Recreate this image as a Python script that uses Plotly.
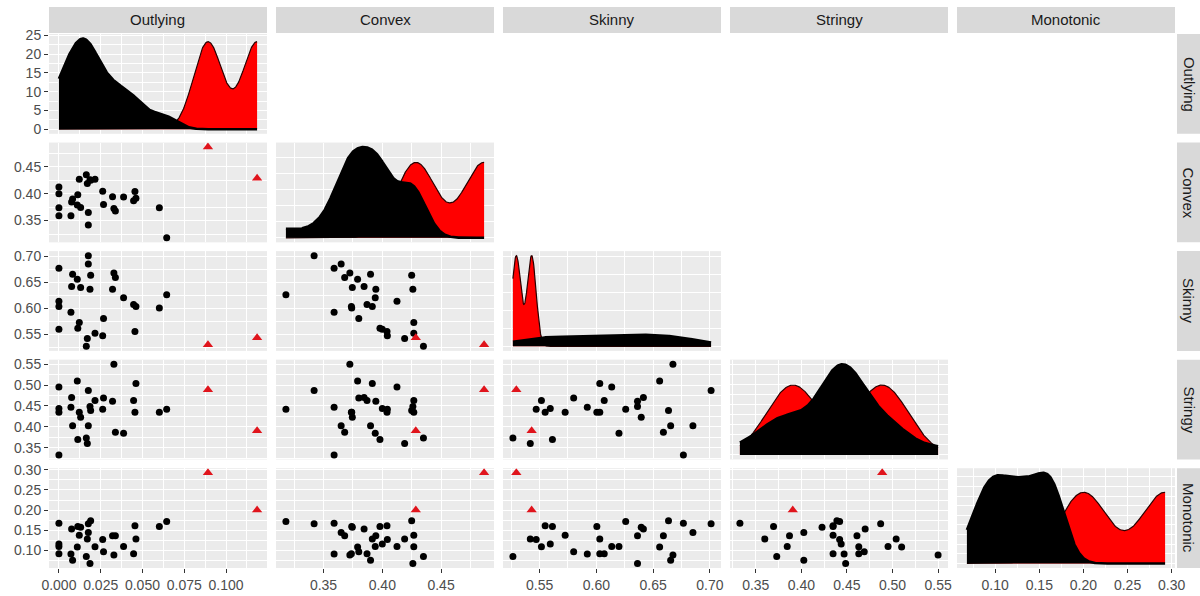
import numpy as np
import plotly.graph_objects as go

VARS = ["Outlying", "Convex", "Skinny", "Stringy", "Monotonic"]

# ---- black group (29 observations) ----
outlying = [0.0176, 0.0176, 0.0, 0.0082, 0.011, 0.019, 0.0076, 0.013, 0.0186, 0.0329,
            0.0338, 0.0321, 0.0387, 0.0447, 0.0461, 0.0601, 0.0645, 0.0, 0.0, 0.0072,
            0.0122, 0.0113, 0.0, 0.0267, 0.0216, 0.0262, 0.017, 0.0164, 0.0455]
convex = [0.342, 0.365, 0.359, 0.390, 0.379, 0.425, 0.3845, 0.3745, 0.426, 0.3724,
          0.368, 0.3945, 0.394, 0.387, 0.3915, 0.374, 0.318, 0.4125, 0.3737, 0.359,
          0.4268, 0.398, 0.400, 0.380, 0.4268, 0.4043, 0.419, 0.435, 0.404]
skinny = [0.701, 0.685, 0.6766, 0.6654, 0.6557, 0.6635, 0.6414, 0.6395, 0.6362, 0.6674,
          0.659, 0.6362, 0.6199, 0.6069, 0.603, 0.6004, 0.6258, 0.6135, 0.603, 0.592,
          0.5725, 0.5613, 0.5594, 0.580, 0.5516, 0.547, 0.5418, 0.5265, 0.5549]
stringy = [0.487, 0.4027, 0.3326, 0.4027, 0.510, 0.439, 0.470, 0.4227, 0.4486, 0.550,
           0.387, 0.461, 0.3845, 0.463, 0.504, 0.4348, 0.442, 0.4951, 0.4348, 0.4469,
           0.4348, 0.3695, 0.4437, 0.469, 0.463, 0.442, 0.3599, 0.373, 0.4348]
monotonic = [0.166, 0.1448, 0.1673, 0.076, 0.109, 0.174, 0.153, 0.1575, 0.068, 0.089,
             0.1365, 0.1365, 0.110, 0.092, 0.1285, 0.1592, 0.172, 0.110, 0.092, 0.0915,
             0.138, 0.1592, 0.116, 0.097, 0.1092, 0.127, 0.1285, 0.0855, 0.1613]

# ---- red group (2 observations) ----
outlying_red = [0.0892, 0.1186]
convex_red = [0.4866, 0.4285]
skinny_red = [0.5295, 0.5430]
stringy_red = [0.4887, 0.3906]
monotonic_red = [0.2925, 0.2000]

black = [outlying, convex, skinny, stringy, monotonic]
red = [outlying_red, convex_red, skinny_red, stringy_red, monotonic_red]

# tick settings per variable: (dtick, format)
TICKS = [(0.025, ".3f"), (0.05, ".2f"), (0.05, ".2f"), (0.05, ".2f"), (0.05, ".2f")]

W, H = 1200, 596
COLS = [(49, 267), (276, 494), (503, 721), (730, 948), (957, 1175)]
ROW_TOP, ROW_BOT, GAP = 34, 568, 8.75
RH = (ROW_BOT - ROW_TOP - 4 * GAP) / 5
ROWS = [(ROW_TOP + i * (RH + GAP), ROW_TOP + i * (RH + GAP) + RH) for i in range(5)]

BG = "#EBEBEB"
STRIP = "#D9D9D9"
TICKFONT = dict(family="Liberation Sans, Arial, sans-serif", size=14, color="#4D4D4D")
STRIPFONT = dict(family="Liberation Sans, Arial, sans-serif", size=15, color="#1A1A1A")
RED = "#FF0000"
RED_PT = "#E0141C"


def px_x(v):
    return v / W


def px_y(v):
    return 1 - v / H


def bw_nrd0(x):
    x = np.asarray(x, float)
    sd = np.std(x, ddof=1)
    q75, q25 = np.percentile(x, [75, 25])
    lo = min(sd, (q75 - q25) / 1.34)
    if lo <= 0:
        lo = sd if sd > 0 else 1.0
    return 0.9 * lo * len(x) ** -0.2


def kde(x, grid):
    x = np.asarray(x, float)
    h = bw_nrd0(x)
    z = (grid[:, None] - x[None, :]) / h
    return np.exp(-0.5 * z ** 2).sum(1) / (len(x) * h * np.sqrt(2 * np.pi))


def nice_dtick(mx):
    raw = mx / 5.0
    p = 10 ** np.floor(np.log10(raw))
    for m in (1, 2, 2.5, 5, 10):
        if m * p >= raw:
            return m * p
    return 10 * p


ranges = []
for i in range(5):
    allv = list(black[i]) + list(red[i])
    lo, hi = min(allv), max(allv)
    pad = 0.05 * (hi - lo)
    ranges.append((lo - pad, hi + pad, lo, hi))

fig = go.Figure()
layout = {}
k = 0
for r in range(5):
    for c in range(r + 1):
        k += 1
        xname = "x" if k == 1 else f"x{k}"
        yname = "y" if k == 1 else f"y{k}"
        xkey = "xaxis" if k == 1 else f"xaxis{k}"
        ykey = "yaxis" if k == 1 else f"yaxis{k}"

        if r == c:
            lo, hi = ranges[c][2], ranges[c][3]
            grid = np.linspace(lo, hi, 512)
            d_red = kde(red[c], grid)
            d_blk = kde(black[c], grid)
            ymax = max(d_red.max(), d_blk.max())
            fig.add_trace(go.Scatter(x=grid, y=d_red, mode="lines", fill="tozeroy",
                                     fillcolor=RED, line=dict(color="#2a0000", width=1.2),
                                     xaxis=xname, yaxis=yname, hoverinfo="skip"))
            fig.add_trace(go.Scatter(x=grid, y=d_blk, mode="lines", fill="tozeroy",
                                     fillcolor="black", line=dict(color="black", width=2.6),
                                     xaxis=xname, yaxis=yname, hoverinfo="skip"))
            yr = [-0.05 * ymax, 1.05 * ymax]
            ydt = 5 if r == 0 else nice_dtick(ymax)
            yfmt = "d"
        else:
            fig.add_trace(go.Scatter(x=black[c], y=black[r], mode="markers",
                                     marker=dict(color="black", size=7, symbol="circle"),
                                     xaxis=xname, yaxis=yname, hoverinfo="skip"))
            fig.add_trace(go.Scatter(x=red[c], y=red[r], mode="markers",
                                     marker=dict(color=RED_PT, size=9, symbol="triangle-up"),
                                     xaxis=xname, yaxis=yname, hoverinfo="skip"))
            yr = [ranges[r][0], ranges[r][1]]
            ydt = TICKS[r][0]
            yfmt = TICKS[r][1]

        xdt, xfmt = TICKS[c]
        show_x = (r == 4)
        show_y = (c == 0)
        x0, x1 = COLS[c]
        y0, y1 = ROWS[r]
        layout[xkey] = dict(
            domain=[px_x(x0), px_x(x1)], range=[ranges[c][0], ranges[c][1]],
            anchor=yname, tick0=0, dtick=xdt, tickformat=xfmt,
            showgrid=True, gridcolor="white", gridwidth=1.2, zeroline=False,
            showline=False, automargin=False,
            minor=dict(tick0=0, dtick=xdt / 2, showgrid=True, gridcolor="white",
                       gridwidth=0.6, ticks=""),
            showticklabels=show_x, ticks="outside" if show_x else "",
            ticklen=4, tickwidth=1, tickcolor="#333333", tickfont=TICKFONT,
            fixedrange=True,
        )
        layout[ykey] = dict(
            domain=[px_y(y1), px_y(y0)], range=yr,
            anchor=xname, tick0=0, dtick=ydt, tickformat=yfmt,
            showgrid=True, gridcolor="white", gridwidth=1.2, zeroline=False,
            showline=False, automargin=False,
            minor=dict(tick0=0, dtick=ydt / 2, showgrid=True, gridcolor="white",
                       gridwidth=0.6, ticks=""),
            showticklabels=show_y, ticks="outside" if show_y else "",
            ticklen=4, tickwidth=1, tickcolor="#333333", tickfont=TICKFONT,
            fixedrange=True,
        )

shapes = []
annotations = []
for i, name in enumerate(VARS):
    x0, x1 = COLS[i]
    shapes.append(dict(type="rect", xref="paper", yref="paper",
                       x0=px_x(x0), x1=px_x(x1), y0=px_y(33), y1=px_y(7),
                       fillcolor=STRIP, line=dict(width=0), layer="below"))
    annotations.append(dict(text=name, xref="paper", yref="paper",
                            x=px_x((x0 + x1) / 2), y=px_y(20), showarrow=False,
                            xanchor="center", yanchor="middle", font=STRIPFONT))
    y0, y1 = ROWS[i]
    shapes.append(dict(type="rect", xref="paper", yref="paper",
                       x0=px_x(1177), x1=px_x(1200), y0=px_y(y1), y1=px_y(y0),
                       fillcolor=STRIP, line=dict(width=0), layer="below"))
    annotations.append(dict(text=name, xref="paper", yref="paper",
                            x=px_x(1189), y=px_y((y0 + y1) / 2), showarrow=False,
                            textangle=90, xanchor="center", yanchor="middle",
                            font=STRIPFONT))

fig.update_layout(
    width=W, height=H, margin=dict(l=0, r=0, t=0, b=0),
    paper_bgcolor="white", plot_bgcolor=BG, showlegend=False,
    shapes=shapes, annotations=annotations, **layout,
)

fig.write_html("out.html", config={"displayModeBar": False},
               post_script="document.body.style.margin='0';document.body.style.overflow='hidden';")
